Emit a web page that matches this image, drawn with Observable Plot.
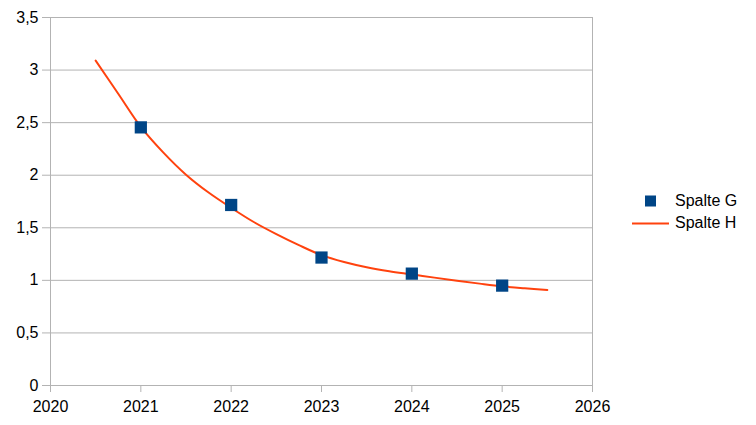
<!DOCTYPE html>
<html>
<head>
<meta charset="utf-8">
<script src="https://cdn.jsdelivr.net/npm/d3@7"></script>
<script src="https://cdn.jsdelivr.net/npm/@observablehq/plot@0.6"></script>
<style>
  html, body { margin: 0; padding: 0; background: #fff; }
  #wrap { position: relative; width: 756px; height: 425px; font-family: "Liberation Sans", Arial, sans-serif; }
  .leg { position: absolute; font-size: 16px; color: #000; line-height: 16px; white-space: nowrap; }
</style>
</head>
<body>
<div id="wrap"></div>
<script>
// Spalte G: measured values
const yearsG = [2021, 2022, 2023, 2024, 2025];
const valuesG = [2.455, 1.717, 1.217, 1.064, 0.95];

// Spalte H: trend curve
const yearsH = [2020.5, 2020.75, 2021, 2021.25, 2021.5, 2021.75, 2022, 2022.25, 2022.5, 2022.75,
                2023, 2023.25, 2023.5, 2023.75, 2024, 2024.25, 2024.5, 2024.75, 2025, 2025.25, 2025.5];
const valuesH = [3.09, 2.775, 2.46, 2.215, 2.005, 1.835, 1.69, 1.555, 1.44, 1.335,
                 1.24, 1.175, 1.125, 1.087, 1.057, 1.026, 0.997, 0.969, 0.943, 0.924, 0.908];

const xTicks = [2020, 2021, 2022, 2023, 2024, 2025, 2026];
const yTicks = [0, 0.5, 1, 1.5, 2, 2.5, 3, 3.5];

const seriesNames = ["Spalte G", "Spalte H"];
const colorG = "#004586";
const colorH = "#ff420e";
const gridColor = "#b3b3b3";

const dataG = yearsG.map((x, i) => ({x, y: valuesG[i]}));
const dataH = yearsH.map((x, i) => ({x, y: valuesH[i]}));

const fmtY = d => String(d).replace(".", ",");

const chart = Plot.plot({
  width: 756,
  height: 425,
  marginLeft: 50,
  marginRight: 164,
  marginTop: 17,
  marginBottom: 40,
  style: { fontFamily: "Liberation Sans, Arial, sans-serif", fontSize: "16px", color: "#000", background: "#fff" },
  x: { domain: [2020, 2026], ticks: xTicks, tickFormat: d => String(d), label: null },
  y: { domain: [0, 3.5], ticks: yTicks, tickFormat: fmtY, label: null },
  marks: [
    Plot.gridY(yTicks, { stroke: gridColor, strokeOpacity: 1, strokeWidth: 1 }),
    Plot.frame({ stroke: gridColor, strokeWidth: 1 }),
    Plot.axisX({ ticks: xTicks, tickFormat: d => String(d), tickSize: 7, tickPadding: 8, stroke: gridColor, fill: "#000", label: null }),
    Plot.axisY({ ticks: yTicks, tickFormat: fmtY, tickSize: 8, tickPadding: 4, stroke: gridColor, fill: "#000", label: null }),
    Plot.line(dataH, { x: "x", y: "y", stroke: colorH, strokeWidth: 2, curve: "catmull-rom" }),
    Plot.dot(dataG, { x: "x", y: "y", symbol: "square", r: 6.9, fill: colorG, stroke: null })
  ]
});

const wrap = document.getElementById("wrap");
wrap.appendChild(chart);

// Legend
const lg = document.createElement("div");
lg.innerHTML = `
  <svg style="position:absolute;left:0;top:0;" width="756" height="425">
    <rect x="645" y="195.5" width="11" height="11" fill="${colorG}"></rect>
    <line x1="632" x2="669" y1="223.5" y2="223.5" stroke="${colorH}" stroke-width="2"></line>
  </svg>
  <div class="leg" style="left:675px; top:193px;">${seriesNames[0]}</div>
  <div class="leg" style="left:675px; top:215px;">${seriesNames[1]}</div>
`;
wrap.appendChild(lg);
</script>
</body>
</html>
